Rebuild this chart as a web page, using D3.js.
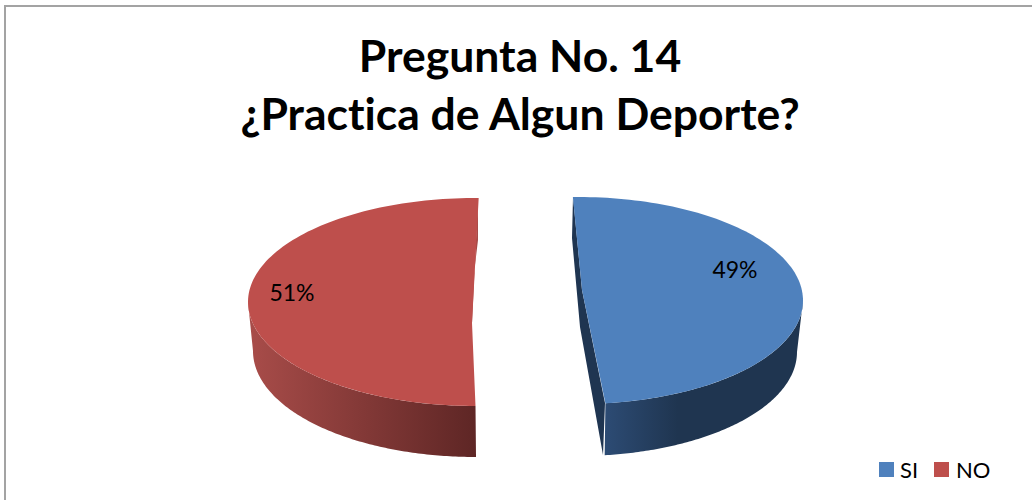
<!DOCTYPE html>
<html>
<head>
<meta charset="utf-8">
<script src="https://cdn.jsdelivr.net/npm/d3@7"></script>
<style>
    html, body { margin: 0; padding: 0; background: #fff; }
    svg { display: block; }
    text { font-family: Lato, "Open Sans", sans-serif; fill: #000; font-variant-ligatures: none; }
</style>
</head>
<body>
<svg id="chart" width="1032" height="500"></svg>
<script>
var categories = ['SI', 'NO'];
var values = [49, 51];
var titleLines = ['Pregunta No. 14', '¿Practica de Algun Deporte?'];

var topColors = ['#4f81bd', '#be4f4c'];
var innerColors = ['#1f3551', '#a64b48'];
var wallStops = [
    [['0%', '#2d4c75'], ['38%', '#1f3550'], ['100%', '#1f3550']],
    [['0%', '#a84c49'], ['100%', '#5e2625']]
];

//Each exploded slice gets its own ellipses, the fake 3D is not a true projection
var slices = [
    {
        top: {cx: 578, cy: 300.5, rx: 225, ry: 103.5},
        low: {cx: 578, cy: 352, rx: 219, ry: 104},
        span: [-1.3, 173], wallFrom: 90,
        apex: [582, 290],
        inner: [[573, 197], [572, 238], [580, 327], [603, 455], [605, 403], [582, 290]],
        wallBox: [603, 800],
        label: [735, 270]
    },
    {
        top: {cx: 475.5, cy: 302, rx: 227.5, ry: 104},
        low: {cx: 476, cy: 351, rx: 223, ry: 106},
        span: [180, 360.8], wallFrom: 270,
        apex: [472, 323],
        inner: [[478, 198], [478, 240], [472, 290], [472, 323]],
        wallBox: [250, 476],
        label: [292, 293]
    }
];

var svg = d3.select('#chart');
var defs = svg.append('defs');
var line = d3.line();
var pie = d3.pie().sort(null).value(function(d) { return d; });
var arcs = pie(values);

function deg(a) { return a * 180 / Math.PI; }

function onEllipse(e, a) {
    var r = a * Math.PI / 180;
    return [e.cx + e.rx * Math.sin(r), e.cy - e.ry * Math.cos(r)];
}

function sweep(e, from, to) {
    var n = 120;
    return d3.range(n + 1).map(function(i) {
        return onEllipse(e, from + (to - from) * i / n);
    });
}

//Frame, cropped on the right and bottom
svg.append('path')
    .attr('d', 'M5,500V6H1032')
    .attr('fill', 'none')
    .attr('stroke', '#a3a3a3')
    .attr('stroke-width', 2);

svg.selectAll('.title')
    .data(titleLines)
    .enter().append('text')
    .attr('class', 'title')
    .attr('x', 520)
    .attr('y', function(d, i) { return 72 + i * 58; })
    .attr('text-anchor', 'middle')
    .style('font-size', '44.5px')
    .style('font-weight', 700)
    .text(function(d) { return d; });

arcs.forEach(function(d, i) {
    var s = slices[i];

    //Pie angles squeezed onto what the tilted slice actually shows
    var angle = d3.scaleLinear()
        .domain([deg(d.startAngle), deg(d.endAngle)])
        .range(s.span);
    var a0 = angle(deg(d.startAngle));
    var a1 = angle(deg(d.endAngle));

    var grad = defs.append('linearGradient')
        .attr('id', 'wall' + i)
        .attr('gradientUnits', 'userSpaceOnUse')
        .attr('x1', s.wallBox[0]).attr('x2', s.wallBox[1])
        .attr('y1', 0).attr('y2', 0);
    wallStops[i].forEach(function(st) {
        grad.append('stop').attr('offset', st[0]).attr('stop-color', st[1]);
    });

    //The outer wall runs from the widest point to the front corner
    var corner = i === 0 ? a1 : a0;
    var wall = sweep(s.top, s.wallFrom, corner).concat(sweep(s.low, corner, s.wallFrom));
    svg.append('path')
        .attr('d', line(wall) + 'Z')
        .attr('fill', 'url(#wall' + i + ')');

    svg.append('path')
        .attr('d', line(s.inner) + 'Z')
        .attr('fill', innerColors[i]);

    var face = sweep(s.top, a0, a1);
    face.push(s.apex);
    svg.append('path')
        .attr('d', line(face) + 'Z')
        .attr('fill', topColors[i]);

    svg.append('text')
        .attr('x', s.label[0])
        .attr('y', s.label[1])
        .attr('dy', '0.35em')
        .attr('text-anchor', 'middle')
        .style('font-size', '23px')
        .text(d3.format('.0%')(values[i] / d3.sum(values)));
});

var legendX = d3.scaleOrdinal().domain(categories).range([879, 934]);

var legend = svg.selectAll('.legend')
    .data(categories)
    .enter().append('g')
    .attr('class', 'legend')
    .attr('transform', function(d) { return 'translate(' + legendX(d) + ',462)'; });

legend.append('rect')
    .attr('width', 15)
    .attr('height', 15)
    .attr('fill', function(d, i) { return topColors[i]; });

legend.append('text')
    .attr('x', function(d, i) { return i === 0 ? 21 : 22; })
    .attr('y', 16)
    .style('font-size', '22px')
    .text(function(d) { return d; });
</script>
</body>
</html>
